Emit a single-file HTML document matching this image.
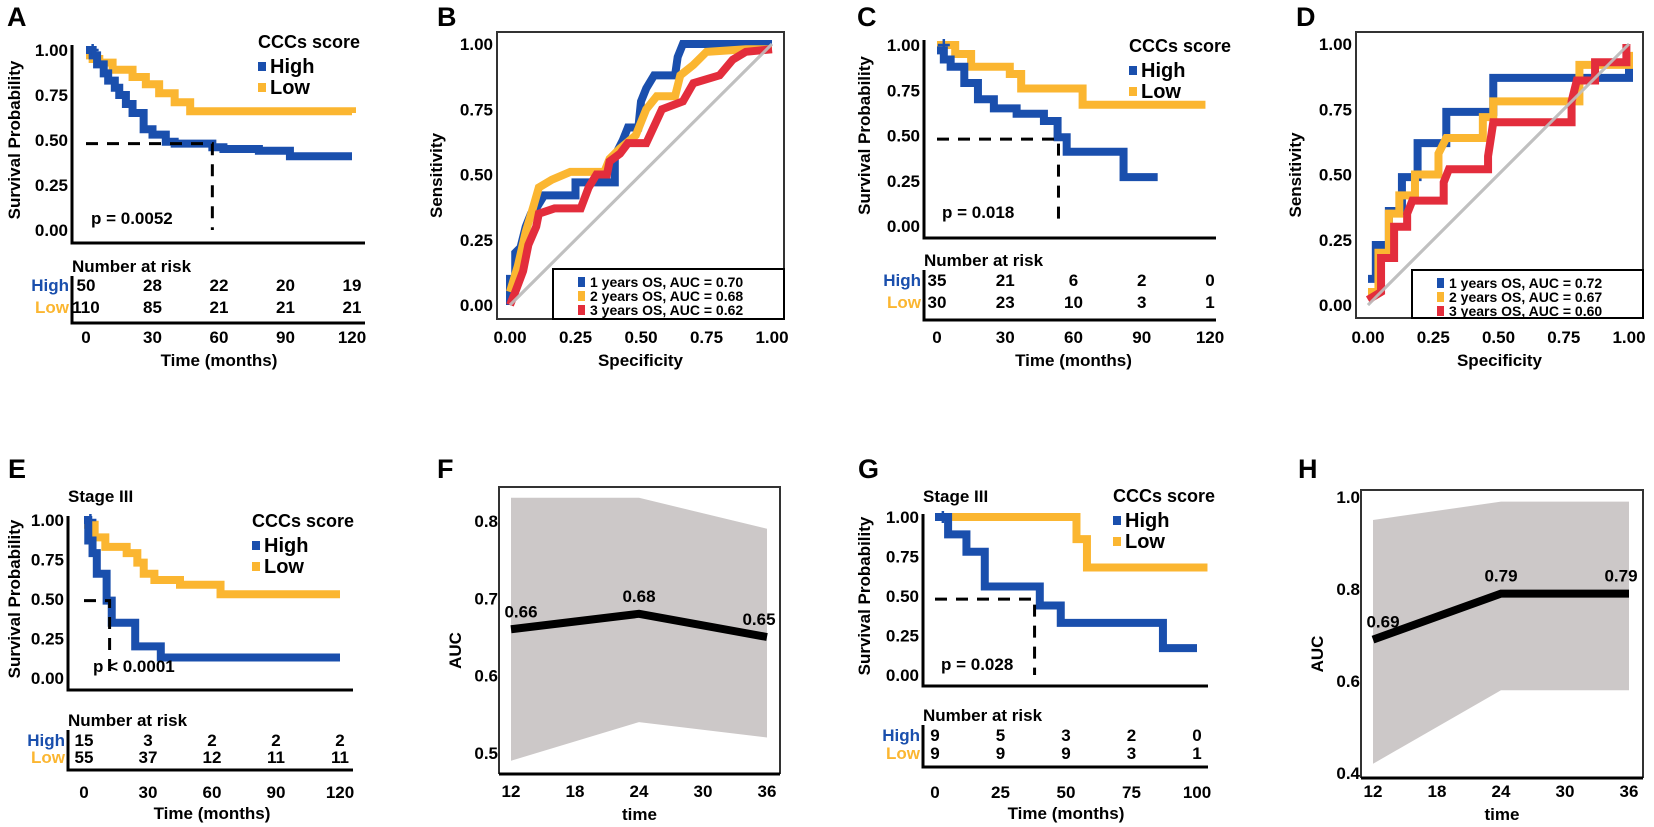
<!DOCTYPE html>
<html><head><meta charset="utf-8">
<style>
html,body{margin:0;padding:0;background:#fff;}
svg{display:block;font-family:"Liberation Sans",Arial,sans-serif;font-weight:bold;}
</style></head>
<body>
<svg id="fig" width="1654" height="827" viewBox="0 0 1654 827" xmlns="http://www.w3.org/2000/svg"></svg>
<script>
// ---------- data ----------
const A_highT=[0,3,5,8,10,13,15,18,21,26,30,36,40,50,57,62,78,92,120];
const A_highS=[1,0.97,0.92,0.87,0.83,0.79,0.75,0.70,0.65,0.56,0.53,0.49,0.48,0.48,0.46,0.45,0.44,0.41,0.41];
const A_lowT=[0,3,6,12,21,27,33,40,47,120];
const A_lowS=[0.97,0.95,0.93,0.89,0.85,0.81,0.76,0.71,0.66,0.65];
const C_highT=[0,3,6,12,18,25,35,47,53,57,82,97];
const C_highS=[0.97,0.92,0.88,0.79,0.70,0.65,0.62,0.58,0.49,0.41,0.27,0.27];
const C_lowT=[0,8,15,32,37,64,118];
const C_lowS=[1,0.95,0.88,0.84,0.76,0.67,0.67];
const E_highT=[0,2,4,6,10.6,13,24,36,120];
const E_highS=[1,0.87,0.79,0.66,0.49,0.35,0.2,0.13,0.13];
const E_lowT=[0,5,10,20,25,28,33,45,64,120];
const E_lowS=[0.97,0.89,0.83,0.79,0.73,0.66,0.62,0.59,0.53,0.53];
const G_highT=[0,5,12,19,40,48,87,100];
const G_highS=[1,0.89,0.78,0.56,0.44,0.33,0.17,0.17];
const G_lowT=[0,54,58,104];
const G_lowS=[1,0.86,0.68,0.68];
const A_riskHigh=["50","28","22","20","19"], A_riskLow=["110","85","21","21","21"];
const C_riskHigh=["35","21","6","2","0"], C_riskLow=["30","23","10","3","1"];
const E_riskHigh=["15","3","2","2","2"], E_riskLow=["55","37","12","11","11"];
const G_riskHigh=["9","5","3","2","0"], G_riskLow=["9","9","9","3","1"];
const kmTicks120=[0,30,60,90,120], kmTicks100=[0,25,50,75,100];
const survTicks=[0,0.25,0.5,0.75,1];
const B_blueX=[0,0,0.02,0.02,0.04,0.06,0.08,0.1,0.13,0.25,0.25,0.4,0.4,0.43,0.45,0.49,0.5,0.52,0.55,0.63,0.64,0.66,1];
const B_blueY=[0,0.1,0.1,0.2,0.22,0.3,0.35,0.37,0.42,0.42,0.47,0.47,0.57,0.63,0.68,0.68,0.78,0.83,0.88,0.88,0.95,1,1];
const B_yelX=[0,0.03,0.06,0.09,0.11,0.16,0.23,0.36,0.38,0.42,0.48,0.52,0.56,0.63,0.65,0.7,0.75,0.9,1];
const B_yelY=[0.05,0.15,0.28,0.38,0.45,0.48,0.51,0.51,0.56,0.6,0.65,0.75,0.8,0.8,0.88,0.92,0.97,0.98,0.98];
const B_redX=[0,0.02,0.05,0.07,0.1,0.11,0.17,0.27,0.3,0.33,0.37,0.38,0.42,0.45,0.52,0.58,0.66,0.7,0.8,0.85,0.9,1];
const B_redY=[0,0.05,0.13,0.23,0.3,0.35,0.37,0.37,0.45,0.5,0.5,0.55,0.58,0.62,0.62,0.75,0.78,0.85,0.88,0.94,0.97,0.98];
const D_blueX=[0,0.03,0.03,0.08,0.08,0.13,0.13,0.19,0.19,0.3,0.3,0.48,0.48,1,1];
const D_blueY=[0.1,0.1,0.23,0.23,0.36,0.36,0.49,0.49,0.62,0.62,0.74,0.74,0.87,0.87,0.92];
const D_yelX=[0,0.04,0.04,0.08,0.08,0.12,0.12,0.18,0.18,0.27,0.27,0.3,0.44,0.44,0.48,0.48,0.81,0.81,1,1];
const D_yelY=[0.05,0.05,0.2,0.2,0.35,0.35,0.42,0.42,0.5,0.5,0.58,0.64,0.64,0.72,0.72,0.78,0.78,0.92,0.92,0.97];
const D_redX=[0,0.05,0.05,0.1,0.1,0.15,0.15,0.17,0.29,0.29,0.31,0.46,0.46,0.48,0.78,0.78,0.8,0.87,0.87,0.99,0.99];
const D_redY=[0.02,0.05,0.18,0.18,0.3,0.3,0.35,0.4,0.4,0.47,0.52,0.52,0.57,0.7,0.7,0.78,0.86,0.86,0.93,0.93,1];
const rocTicks=[0,0.25,0.5,0.75,1];
const B_legend=["1 years OS, AUC = 0.70","2 years OS, AUC = 0.68","3 years OS, AUC = 0.62"];
const D_legend=["1 years OS, AUC = 0.72","2 years OS, AUC = 0.67","3 years OS, AUC = 0.60"];
const aucTimes=[12,24,36], aucTicksX=[12,18,24,30,36];
const F_auc=[0.66,0.68,0.65], F_lo=[0.49,0.54,0.52], F_hi=[0.83,0.83,0.79];
const H_auc=[0.69,0.79,0.79], H_lo=[0.42,0.58,0.58], H_hi=[0.95,0.99,0.99];
const F_ticksY=[0.5,0.6,0.7,0.8], H_ticksY=[0.4,0.6,0.8,1.0];

// ---------- helpers ----------
const NS="http://www.w3.org/2000/svg";
const svg=document.getElementById('fig');
const BLUE="#1a4fad", YEL="#fbb631", RED="#e32d3c";
function el(tag,attrs,parent){const e=document.createElementNS(NS,tag);for(const k in attrs)e.setAttribute(k,attrs[k]);(parent||svg).appendChild(e);return e;}
function txt(x,y,s,size,anchor,fill,parent){const t=el('text',{x:x,y:y,'font-size':size,'text-anchor':anchor||'start',fill:fill||'#000'},parent);t.textContent=s;return t;}
function lin(x0,x1,d0,d1){return v=>x0+(v-d0)/(d1-d0)*(x1-x0);}

function panelLabel(x,y,s){const t=txt(x,y,s,27,'start');

}

function kmPanel(o){
  const g=el('g',{});
  
  
  const X=lin(o.x0,o.x1,0,o.tmax), Y=lin(o.y0,o.y1,0,1);
  if(o.stage){const t=txt(o.ax,o.stageY,"Stage III",17,'start','#000',g);
    }
  const ax=el('path',{d:`M${o.ax} ${o.axTop} V${o.axBot} H${o.axRight}`,stroke:'#000','stroke-width':3,fill:'none'},g);
  
  survTicks.forEach(v=>{const t=txt(o.ax-4,Y(v)+6,v.toFixed(2),17,'end','#000',g);
    });
  const yt=txt(0,0,"Survival Probability",17,'middle','#000',g);
  yt.setAttribute('transform',`translate(${o.ylabX},${(o.y0+o.y1)/2}) rotate(-90)`);
  
  function curve(T,S,col,name){let d=`M${X(T[0])} ${Y(S[0])}`;
    for(let i=1;i<T.length;i++){d+=` H${X(T[i])} V${Y(S[i])}`;}
    const p=el('path',{d:d,stroke:col,'stroke-width':8,fill:'none','stroke-linejoin':'miter'},g);
    }
  curve(o.lowT,o.lowS,YEL,'low-survival-curve');
  curve(o.highT,o.highS,BLUE,'high-survival-curve');
  const cm=el('path',{d:`M${X(3)-6} ${Y(1)} h12 M${X(3)} ${Y(1)-6} v12`,stroke:BLUE,'stroke-width':2.5},g);
  
  const md=el('path',{d:`M${X(0)} ${Y(o.medY)} H${X(o.med)} V${Y(0)}`,stroke:'#000','stroke-width':3,fill:'none','stroke-dasharray':'12 9'},g);
  
  const pv=txt(o.px,o.py,o.p,17,'start','#000',g);
  
  const lg=el('g',{},g);
  txt(o.lx,o.ly,"CCCs score",18,'start','#000',lg);
  el('rect',{x:o.lx,y:o.ly+14,width:8,height:9,fill:BLUE},lg);
  const h=txt(o.lx+12,o.ly+25,"High",20,'start','#000',lg);
  
  el('rect',{x:o.lx,y:o.ly+35,width:8,height:9,fill:YEL},lg);
  const l=txt(o.lx+12,o.ly+46,"Low",20,'start','#000',lg);
  
  const rt=el('g',{},g);
  txt(o.ax,o.rNum,"Number at risk",17,'start','#000',rt);
  txt(o.ax-3,o.rHigh,"High",17,'end',BLUE,rt);
  txt(o.ax-3,o.rLow,"Low",17,'end',YEL,rt);
  o.ticks.forEach((t,i)=>{
    txt(X(t),o.rHigh,o.riskHigh[i],17,'middle','#000',rt);
    txt(X(t),o.rLow,o.riskLow[i],17,'middle','#000',rt);
    const tl=txt(X(t),o.tickY,String(t),17,'middle','#000',g);
    
  });
  el('path',{d:`M${o.ax} ${o.rNum+4} V${o.rBot} H${o.axRight}`,stroke:'#000','stroke-width':3,fill:'none'},rt);
  const xt=txt((o.x0+o.x1)/2,o.timeY,"Time (months)",17,'middle','#000',g);
  
}

function rocPanel(o){
  const g=el('g',{});
  
  const X=lin(o.x0,o.x1,0,1), Y=lin(o.y0,o.y1,0,1);
  const box=el('rect',{x:o.bx0,y:o.by0,width:o.bx1-o.bx0,height:o.by1-o.by0,fill:'none',stroke:'#333','stroke-width':2},g);
  
  const dg=el('line',{x1:X(0),y1:Y(0),x2:X(1),y2:Y(1),stroke:'#c0c0c0','stroke-width':3},g);
  
  function curve(xs,ys,col,name){const d=xs.map((v,i)=>(i?'L':'M')+X(v)+' '+Y(ys[i])).join(' ');
    const p=el('path',{d:d,stroke:col,'stroke-width':8,fill:'none'},g);
    }
  curve(o.bx,o.by,BLUE,'roc-1-year');curve(o.yx,o.yy,YEL,'roc-2-year');curve(o.rx,o.ry,RED,'roc-3-year');
  el('line',{x1:X(0),y1:Y(0),x2:X(1),y2:Y(1),stroke:'#c0c0c0','stroke-width':3,'stroke-opacity':0.9},g);
  rocTicks.forEach(v=>{
    const a=txt(o.bx0-4,Y(v)+6,v.toFixed(2),17,'end','#000',g);
    
    const b=txt(X(v),343,v.toFixed(2),17,'middle','#000',g);
    
  });
  const yt=txt(0,0,"Sensitivity",17,'middle','#000',g);
  yt.setAttribute('transform',`translate(${o.bx0-55},${(o.by0+o.by1)/2}) rotate(-90)`);
  
  const xt=txt((o.bx0+o.bx1)/2,366,"Specificity",17,'middle','#000',g);
  
  const lg=el('g',{},g);
  el('rect',{x:o.lgx,y:o.lgy,width:o.bx1-o.lgx,height:o.by1-o.lgy,fill:'#fff',stroke:'#000','stroke-width':2},lg);
  [BLUE,YEL,RED].forEach((c,i)=>{
    el('rect',{x:o.lgx+25,y:o.lgy+8+i*14,width:7,height:10,fill:c},lg);
    const t=txt(o.lgx+37,o.lgy+18+i*14,o.legend[i],14,'start','#000',lg);
    
  });
}

function aucPanel(o){
  const g=el('g',{});
  
  const X=lin(o.x0,o.x1,12,36), Y=lin(o.vy0,o.vy1,o.v0,o.v1);
  let d=aucTimes.map((t,i)=>(i?'L':'M')+X(t)+' '+Y(o.hi[i])).join(' ');
  for(let i=aucTimes.length-1;i>=0;i--)d+=' L'+X(aucTimes[i])+' '+Y(o.lo[i]);
  const band=el('path',{d:d+' Z',fill:'#ccc8c8'},g);
  
  const ln=el('path',{d:aucTimes.map((t,i)=>(i?'L':'M')+X(t)+' '+Y(o.auc[i])).join(' '),stroke:'#000','stroke-width':8,fill:'none'},g);
  
  aucTimes.forEach((t,i)=>{const lbl=txt(X(t)+(i==2?-8:(i==0?10:0)),Y(o.auc[i])-12,o.auc[i].toFixed(2),17,'middle','#000',g);
    });
  const box=el('path',{d:`M${o.bx0} ${o.by1} V${o.by0} H${o.bx1} V${o.by1}`,fill:'none',stroke:'#333','stroke-width':2},g);
  
  el('line',{x1:o.bx0,y1:o.by1,x2:o.bx1,y2:o.by1,stroke:'#000','stroke-width':3},g);
  o.ticksY.forEach(v=>{const a=txt(o.bx0-1,Y(v)+6,v.toFixed(1),17,'end','#000',g);
    });
  aucTicksX.forEach(v=>{const b=txt(X(v),797,String(v),17,'middle','#000',g);
    });
  const yt=txt(0,0,"AUC",17,'middle','#000',g);
  yt.setAttribute('transform',`translate(${o.bx0-38},${(o.by0+o.by1)/2+20}) rotate(-90)`);
  
  const xt=txt((o.bx0+o.bx1)/2,820,"time",17,'middle','#000',g);
  
}

// ---------- build ----------
panelLabel(7,26,"A");panelLabel(437,26,"B");panelLabel(857,26,"C");panelLabel(1296,26,"D");
panelLabel(8,478,"E");panelLabel(437,478,"F");panelLabel(858,478,"G");panelLabel(1298,478,"H");

kmPanel({id:'a',x0:86,x1:352,tmax:120,y0:230,y1:50,ax:72,axTop:45,axBot:243,axRight:365,ylabX:20,
  highT:A_highT,highS:A_highS,lowT:A_lowT,lowS:A_lowS,med:57,medY:0.48,p:"p = 0.0052",px:91,py:224,
  lx:258,ly:48,rNum:272,rHigh:291,rLow:313,rBot:323,tickY:343,timeY:366,ticks:kmTicks120,riskHigh:A_riskHigh,riskLow:A_riskLow});
kmPanel({id:'c',x0:937,x1:1210,tmax:120,y0:226,y1:45,ax:924,axTop:40,axBot:238,axRight:1216,ylabX:870,
  highT:C_highT,highS:C_highS,lowT:C_lowT,lowS:C_lowS,med:53.4,medY:0.48,p:"p = 0.018",px:942,py:218,
  lx:1129,ly:52,rNum:266,rHigh:286,rLow:308,rBot:320,tickY:343,timeY:366,ticks:kmTicks120,riskHigh:C_riskHigh,riskLow:C_riskLow});
kmPanel({id:'e',x0:84,x1:340,tmax:120,y0:678,y1:520,ax:68,axTop:516,axBot:690,axRight:353,ylabX:20,stage:true,stageY:502,
  highT:E_highT,highS:E_highS,lowT:E_lowT,lowS:E_lowS,med:12,medY:0.49,p:"p < 0.0001",px:93,py:672,
  lx:252,ly:527,rNum:726,rHigh:746,rLow:763,rBot:770,tickY:798,timeY:819,ticks:kmTicks120,riskHigh:E_riskHigh,riskLow:E_riskLow});
kmPanel({id:'g',x0:935,x1:1197,tmax:100,y0:675,y1:517,ax:923,axTop:514,axBot:686,axRight:1208,ylabX:870,stage:true,stageY:502,
  highT:G_highT,highS:G_highS,lowT:G_lowT,lowS:G_lowS,med:38,medY:0.48,p:"p = 0.028",px:941,py:670,
  lx:1113,ly:502,rNum:721,rHigh:741,rLow:759,rBot:767,tickY:798,timeY:819,ticks:kmTicks100,riskHigh:G_riskHigh,riskLow:G_riskLow});

rocPanel({id:'b',x0:510,x1:772,y0:305,y1:44,bx0:497,bx1:784,by0:32,by1:319,lgx:553,lgy:269,
  bx:B_blueX,by:B_blueY,yx:B_yelX,yy:B_yelY,rx:B_redX,ry:B_redY,legend:B_legend});
rocPanel({id:'d',x0:1368,x1:1629,y0:305,y1:44,bx0:1356,bx1:1643,by0:32,by1:318,lgx:1412,lgy:270,
  bx:D_blueX,by:D_blueY,yx:D_yelX,yy:D_yelY,rx:D_redX,ry:D_redY,legend:D_legend});

aucPanel({id:'f',x0:511,x1:767,vy0:753,vy1:521,v0:0.5,v1:0.8,bx0:499,bx1:780,by0:487,by1:774,
  auc:F_auc,lo:F_lo,hi:F_hi,ticksY:F_ticksY});
aucPanel({id:'h',x0:1373,x1:1629,vy0:773,vy1:497,v0:0.4,v1:1.0,bx0:1361,bx1:1643,by0:490,by1:778,
  auc:H_auc,lo:H_lo,hi:H_hi,ticksY:H_ticksY});
</script>
</body></html>
